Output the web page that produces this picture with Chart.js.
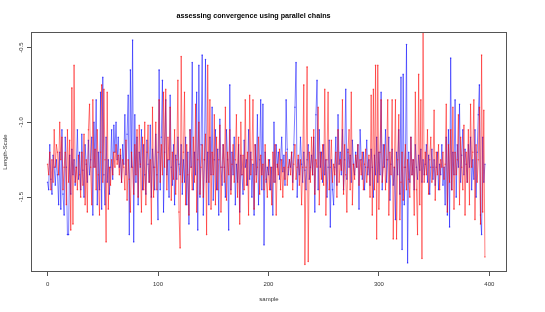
<!DOCTYPE html>
<html>
<head>
<meta charset="utf-8">
<script src="https://cdn.jsdelivr.net/npm/chart.js@4/dist/chart.umd.min.js"></script>
<style>
  html, body { margin: 0; padding: 0; background: #fff; }
  #chain-chart { display: block; }
</style>
</head>
<body>
<canvas id="chain-chart" width="545" height="312"></canvas>
<script>
// chain 1 (blue), samples 0..396
const blueChain = [
  -1.40,-1.45,-1.15,-1.38,-1.48,-1.22,-1.30,-1.42,-1.25,-1.35,-1.55,-1.20,-1.58,-1.05,-1.48,-1.62,-1.10,-1.30,-1.75,-1.75,
  -1.22,-1.48,-1.18,-1.35,-1.25,-1.42,-1.30,-1.05,-1.38,-1.20,-1.45,-1.08,-1.32,-1.50,-1.15,-1.28,-1.40,-1.12,-1.35,-1.25,
  -1.10,-1.62,-1.00,-1.30,-0.85,-1.55,-1.20,-1.45,-0.80,-1.58,-0.70,-1.35,-1.55,-1.10,-1.40,-1.25,-1.48,-1.30,-1.05,-1.38,
  -1.02,-1.20,-1.00,-1.25,-1.10,-1.30,-1.22,-1.40,-1.15,-1.28,-0.95,-1.35,-1.08,-0.82,-1.75,-0.65,-1.30,-0.45,-1.80,-0.95,
  -1.40,-1.10,-1.55,-1.20,-1.30,-1.05,-1.45,-1.15,-1.35,-1.48,-1.12,-1.28,-1.40,-1.02,-1.50,-1.18,-1.30,-1.45,-1.08,-1.35,
  -1.65,-0.65,-1.45,-1.10,-0.72,-1.60,-1.20,-0.85,-1.35,-1.25,-1.50,-0.82,-1.30,-1.42,-1.15,-1.55,-1.22,-1.38,-1.10,-1.28,
  -1.35,-1.15,-1.48,-1.25,-1.40,-1.10,-1.55,-1.20,-1.68,-1.05,-1.30,-0.60,-1.45,-1.20,-1.35,-0.80,-1.72,-0.62,-1.50,-1.15,
  -0.55,-1.62,-1.25,-0.58,-1.40,-1.20,-1.55,-1.10,-1.35,-0.90,-1.52,-1.25,-1.05,-1.45,-1.18,-1.62,-0.98,-1.30,-1.42,-1.15,
  -1.30,-1.50,-1.05,-1.25,-1.72,-0.75,-1.45,-1.20,-1.35,-1.10,-1.55,-1.28,-1.40,-1.15,-1.60,-1.22,-1.35,-1.48,-1.12,-1.30,
  -1.25,-1.42,-1.05,-1.38,-1.20,-1.50,-1.28,-1.62,-1.15,-1.35,-0.95,-1.55,-1.25,-0.85,-1.45,-0.88,-1.82,-1.20,-1.40,-1.30,
  -1.35,-1.25,-1.45,-1.30,-1.62,-1.00,-1.40,-1.15,-1.30,-1.20,-1.38,-1.25,-1.10,-1.33,-1.22,-1.42,-0.85,-1.18,-1.35,-1.25,
  -1.30,-1.20,-1.40,-1.15,-0.90,-0.60,-1.50,-1.25,-1.35,-1.10,-1.28,-1.40,-1.20,-1.32,-1.45,-1.25,-1.15,-1.38,-1.30,-1.22,
  -1.35,-1.10,-1.60,-0.95,-0.72,-1.45,-1.05,-1.30,-1.20,-1.40,-1.15,-1.35,-1.25,-1.50,-1.30,-1.12,-1.70,-1.25,-1.45,-1.55,
  -1.30,-1.10,-1.42,-0.95,-1.28,-1.20,-1.35,-1.05,-1.45,-1.25,-0.78,-1.38,-1.18,-1.30,-1.22,-1.40,-1.12,-1.28,-1.35,-1.20,
  -1.30,-1.15,-1.58,-1.05,-1.25,-1.38,-1.20,-1.45,-1.30,-1.12,-1.35,-1.25,-1.42,-1.18,-1.30,-1.50,-1.22,-1.35,-1.10,-1.40,
  -1.20,-1.35,-0.80,-1.45,-1.15,-1.30,-1.05,-1.40,-1.25,-1.10,-1.52,-1.28,-1.18,-1.42,-1.30,-1.65,-1.20,-1.35,-1.05,-1.48,
  -0.70,-1.85,-0.68,-1.55,-1.30,-0.48,-1.94,-1.20,-1.40,-1.10,-1.35,-1.25,-1.45,-1.15,-1.30,-1.38,-1.22,-1.32,-1.18,-1.40,
  -1.25,-1.35,-1.28,-1.15,-1.40,-1.22,-1.48,-1.30,-1.18,-1.38,-1.25,-1.42,-1.30,-1.20,-1.45,-1.28,-1.35,-1.15,-1.42,-1.30,
  -1.55,-1.10,-1.62,-1.05,-1.70,-0.57,-1.45,-1.20,-1.35,-0.85,-1.50,-1.15,-1.30,-0.88,-1.40,-1.22,-1.05,-1.35,-1.18,-1.28,
  -1.40,-1.15,-1.30,-1.10,-1.45,-1.25,-1.38,-1.05,-1.50,-1.20,-0.95,-0.75,-1.62,-1.75,-1.10,-1.40,-1.28
];

// chain 2 (red), samples 0..396
const redChain = [
  -1.28,-1.35,-1.20,-1.45,-1.25,-1.40,-1.05,-1.30,-1.15,-1.20,-1.35,-1.00,-1.25,-1.10,-1.45,-1.30,-1.20,-1.55,-1.05,-1.40,
  -1.12,-1.72,-0.77,-1.68,-0.62,-1.40,-1.30,-1.45,-1.22,-1.35,-1.50,-1.20,-1.42,-1.08,-1.55,-1.25,-1.60,-1.05,-0.88,-1.30,
  -1.55,-0.85,-1.30,-1.18,-1.45,-1.05,-1.35,-1.62,-1.20,-0.75,-1.40,-0.78,-1.25,-1.80,-0.80,-1.58,-1.30,-1.42,-1.25,-1.35,
  -1.20,-1.30,-1.15,-1.28,-1.22,-1.35,-1.18,-1.40,-1.25,-1.30,-1.45,-1.12,-1.52,-1.25,-1.38,-1.60,-1.20,-1.30,-1.48,-1.15,
  -1.35,-1.05,-1.50,-1.02,-1.28,-1.60,-1.10,-1.45,-1.00,-1.55,-1.20,-1.02,-1.40,-1.25,-1.68,-0.90,-1.50,-1.30,-1.00,-1.45,
  -1.20,-0.85,-1.40,-1.15,-1.35,-0.80,-1.30,-0.78,-1.45,-1.10,-1.25,-0.90,-1.52,-1.20,-1.38,-1.05,-1.48,-1.25,-0.72,-1.60,
  -1.84,-0.56,-1.40,-1.20,-0.80,-1.55,-1.15,-1.35,-1.62,-1.05,-1.30,-1.45,-1.10,-1.40,-0.88,-1.60,-1.25,-1.00,-1.48,-1.30,
  -1.15,-1.50,-1.25,-1.08,-1.75,-0.62,-1.40,-0.85,-1.58,-1.20,-1.35,-0.95,-1.55,-1.10,-1.45,-1.25,-1.02,-1.60,-1.30,-1.15,
  -1.40,-0.90,-1.52,-1.20,-1.35,-1.05,-1.48,-1.28,-1.15,-1.40,-1.25,-0.95,-1.50,-1.10,-1.68,-1.00,-1.35,-1.22,-1.45,-0.85,
  -1.42,-1.20,-1.62,-0.82,-1.35,-1.25,-0.85,-1.58,-1.15,-1.40,-1.30,-1.10,-1.48,-1.22,-1.35,-1.28,-1.45,-1.15,-1.38,-1.50,
  -1.25,-1.45,-1.30,-1.55,-1.20,-1.40,-1.15,-1.62,-1.28,-1.35,-1.18,-1.45,-1.25,-1.50,-1.30,-1.38,-1.20,-1.42,-1.30,-1.25,
  -1.35,-1.20,-1.45,-1.28,-1.15,-1.38,-1.30,-1.22,-1.42,-1.25,-1.55,-1.30,-0.75,-1.95,-1.30,-0.63,-1.93,-1.20,-1.40,-1.10,
  -1.35,-1.05,-1.48,-1.25,-1.30,-0.90,-1.55,-1.20,-1.38,-1.15,-1.42,-0.78,-1.62,-1.25,-0.80,-1.45,-1.30,-1.12,-1.40,-1.28,
  -1.35,-1.20,-1.50,-1.05,-1.40,-1.25,-1.32,-0.85,-1.48,-1.15,-1.35,-1.60,-1.20,-1.05,-1.45,-0.80,-1.55,-1.28,-1.38,-1.22,
  -1.30,-1.15,-1.42,-1.25,-1.35,-1.20,-1.45,-1.28,-1.18,-1.40,-1.30,-1.22,-1.50,-0.82,-1.62,-0.78,-1.45,-0.62,-1.78,-0.62,
  -1.58,-1.20,-0.85,-1.40,-1.30,-1.15,-1.45,-1.25,-0.85,-1.62,-1.20,-1.35,-0.85,-1.78,-1.30,-0.85,-1.78,-1.25,-0.95,-1.65,
  -1.40,-1.20,-1.52,-1.30,-1.15,-1.45,-1.25,-1.38,-1.50,-1.10,-1.35,-1.25,-1.62,-0.80,-1.45,-1.75,-0.68,-1.55,-0.85,-1.91,
  -0.30,-1.40,-1.20,-1.35,-1.05,-1.48,-1.25,-1.10,-1.40,-1.30,-0.92,-1.52,-1.20,-1.35,-1.15,-1.45,-1.25,-1.30,-1.20,-1.38,
  -1.28,-0.88,-1.60,-1.15,-1.40,-1.05,-1.45,-0.90,-1.58,-1.20,-1.35,-1.25,-0.95,-1.55,-1.10,-1.30,-1.45,-1.02,-1.62,-1.20,
  -1.40,-1.05,-1.55,-0.88,-1.30,-1.20,-0.85,-1.65,-1.15,-1.40,-1.25,-0.90,-1.68,-0.55,-1.60,-0.92,-1.90
];

const xTicks = [0, 100, 200, 300, 400];
const yTicks = [-1.5, -1.0, -0.5];

const fontFamily = '"Liberation Sans", Arial, Helvetica, sans-serif';

function toPoints(values) {
    return values.map((v, i) => ({ x: i, y: v }));
}

// R-style box around the plot region
const boxPlugin = {
    id: 'box',
    afterDraw(chart) {
        const a = chart.chartArea;
        const ctx = chart.ctx;
        ctx.save();
        ctx.strokeStyle = '#555';
        ctx.lineWidth = 1;
        ctx.strokeRect(Math.round(a.left) + 0.5, Math.round(a.top) + 0.5,
            Math.round(a.right - a.left) - 1, Math.round(a.bottom - a.top) - 1);
        ctx.restore();
    }
};

const config = {
    type: 'line',
    data: {
        datasets: [{
            label: 'chain 2',
            data: toPoints(redChain),
            borderColor: 'rgba(255, 0, 0, 0.5)',
            backgroundColor: 'rgba(255, 0, 0, 0.55)',
            borderWidth: 1,
            pointRadius: 0.8,
            pointBorderWidth: 0,
            tension: 0,
            order: 0
        }, {
            label: 'chain 1',
            data: toPoints(blueChain),
            borderColor: 'rgba(0, 0, 255, 0.5)',
            backgroundColor: 'rgba(0, 0, 255, 0.55)',
            borderWidth: 1,
            pointRadius: 0.8,
            pointBorderWidth: 0,
            tension: 0,
            order: 1
        }]
    },
    options: {
        responsive: false,
        animation: false,
        devicePixelRatio: 1,
        layout: { padding: { left: 0, right: 38, top: 0, bottom: 0 } },
        plugins: {
            legend: { display: false },
            tooltip: { enabled: false },
            title: {
                display: true,
                text: 'assessing convergence using parallel chains',
                color: '#000',
                font: { family: fontFamily, size: 7.2, weight: 'bold', lineHeight: 1.2 },
                padding: { top: 11.7, bottom: 11.7 }
            }
        },
        scales: {
            x: {
                type: 'linear',
                min: -15,
                max: 416,
                afterBuildTicks: s => { s.ticks = xTicks.map(v => ({ value: v })); },
                afterFit: s => { s.height = 40; },
                grid: { drawOnChartArea: false, drawTicks: true, tickLength: 4, color: '#555' },
                border: { display: false },
                ticks: {
                    color: '#333',
                    padding: 5,
                    maxRotation: 0,
                    font: { family: fontFamily, size: 6 }
                },
                title: {
                    display: true,
                    text: 'sample',
                    color: '#333',
                    font: { family: fontFamily, size: 6 },
                    padding: { top: 0, bottom: 8.7 }
                }
            },
            y: {
                type: 'linear',
                min: -2.0,
                max: -0.397,
                afterBuildTicks: s => { s.ticks = yTicks.map(v => ({ value: v })); },
                afterFit: s => { s.width = 31; },
                grid: { drawOnChartArea: false, drawTicks: true, tickLength: 4, color: '#555' },
                border: { display: false },
                ticks: {
                    color: '#333',
                    padding: 0,
                    minRotation: 90,
                    maxRotation: 90,
                    crossAlign: 'center',
                    font: { family: fontFamily, size: 6 },
                    callback: v => v.toFixed(1)
                },
                title: {
                    display: true,
                    text: 'Length-Scale',
                    color: '#333',
                    font: { family: fontFamily, size: 6 },
                    padding: { top: 1.4, bottom: 0 }
                }
            }
        }
    },
    plugins: [boxPlugin]
};

const chainChart = new Chart(document.getElementById('chain-chart'), config);
</script>
</body>
</html>
